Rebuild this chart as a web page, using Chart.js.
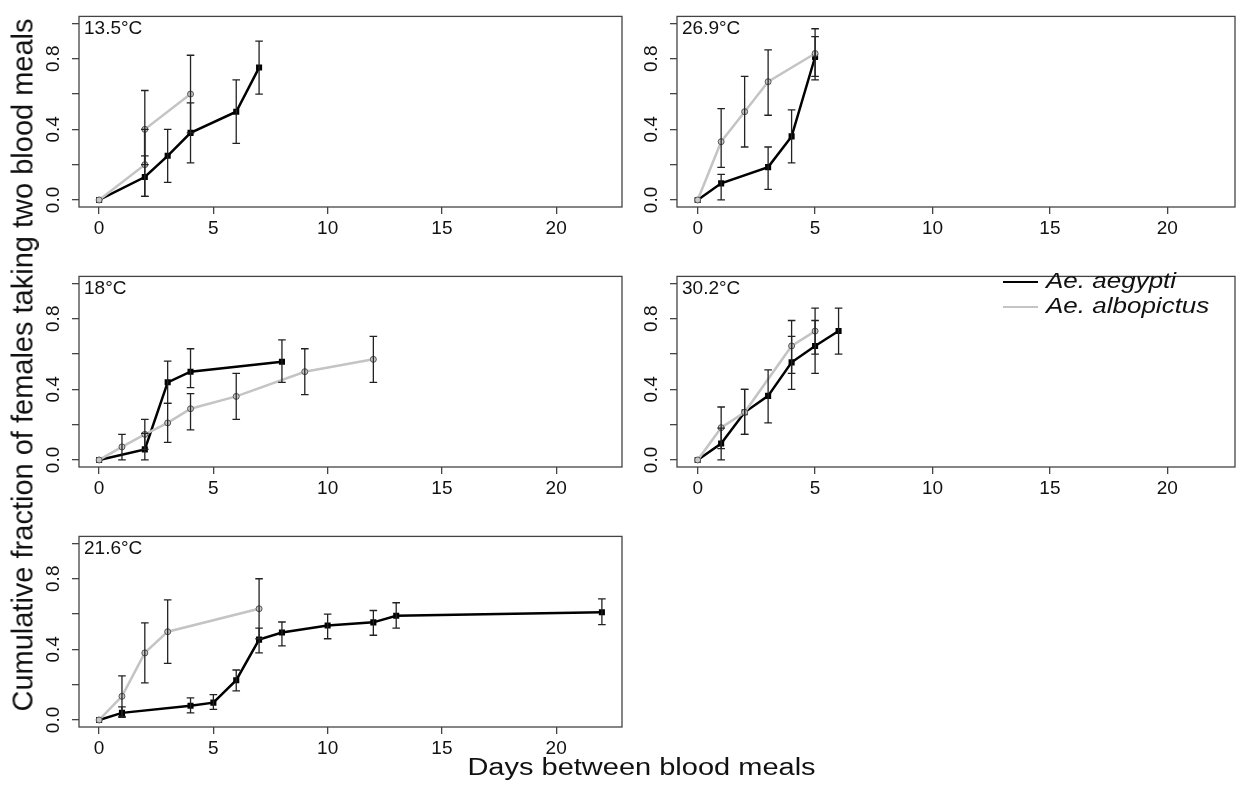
<!DOCTYPE html>
<html>
<head>
<meta charset="utf-8">
<script src="https://cdn.jsdelivr.net/npm/chart.js@4.4.1/dist/chart.umd.min.js"></script>
<style>
  html, body { margin: 0; padding: 0; background: #fff; }
  body { width: 1244px; height: 788px; position: relative; overflow: hidden;
         font-family: "Liberation Sans", Arial, sans-serif; color: #111; }
  canvas { position: absolute; }
  .lbl { position: absolute; font-size: 19px; line-height: 19px; white-space: nowrap; }
  .ytitle { position: absolute; left: 23px; top: 365px; width: 800px; text-align: center;
            font-size: 29px; line-height: 29px; white-space: nowrap;
            transform: translate(-50%, -50%) rotate(-90deg); }
  .xtitle { position: absolute; left: 241.5px; top: 755px; width: 800px; text-align: center;
            font-size: 29px; line-height: 29px; white-space: nowrap;
            transform: scaleY(0.853); transform-origin: center top; }
  .leg { position: absolute; left: 1046px; font-size: 26px; line-height: 26px; font-style: italic;
         white-space: nowrap; transform: scaleY(0.86); transform-origin: left top; }
  .legline { position: absolute; left: 1003px; width: 35px; height: 2.5px; }
</style>
</head>
<body>

<canvas id="p135"></canvas>
<canvas id="p269"></canvas>
<canvas id="p18"></canvas>
<canvas id="p302"></canvas>
<canvas id="p216"></canvas>

<div class="ytitle">Cumulative fraction of females taking two blood meals</div>
<div class="xtitle">Days between blood meals</div>

<div class="legline" style="top:280.5px;background:#000;"></div>
<div class="legline" style="top:305.5px;background:#c4c4c4;"></div>
<div class="leg" style="top:269.4px;">Ae. aegypti</div>
<div class="leg" style="top:294.4px;">Ae. albopictus</div>

<script>
// rows: day, cumulative fraction, lower CI, upper CI
const aeg135 = [[0, 0, null, null], [2, 0.13, 0.02, 0.25], [3, 0.25, 0.10, 0.40], [4, 0.38, 0.21, 0.55], [6, 0.50, 0.32, 0.68], [7, 0.75, 0.60, 0.90]];
const alb135 = [[0, 0, null, null], [2, 0.20, 0.02, 0.40], [2, 0.40, 0.20, 0.62], [4, 0.60, 0.38, 0.82]];

const aeg269 = [[0, 0, null, null], [1, 0.094, 0.0, 0.145], [3, 0.186, 0.06, 0.30], [4, 0.36, 0.21, 0.51], [5, 0.81, 0.70, 0.925]];
const alb269 = [[0, 0, null, null], [1, 0.33, 0.184, 0.517], [2, 0.50, 0.30, 0.70], [3, 0.67, 0.48, 0.85], [5, 0.83, 0.68, 0.97]];

const aeg18 = [[0, 0, null, null], [2, 0.06, 0.0, 0.15], [3, 0.44, 0.32, 0.56], [4, 0.50, 0.41, 0.63], [8, 0.556, 0.44, 0.68]];
const alb18 = [[0, 0, null, null], [1, 0.074, 0.0, 0.145], [2, 0.145, 0.06, 0.23], [3, 0.21, 0.10, 0.32], [4, 0.29, 0.17, 0.376], [6, 0.36, 0.23, 0.49], [9, 0.50, 0.37, 0.63], [12, 0.57, 0.44, 0.70]];

const aeg302 = [[0, 0, null, null], [1, 0.093, 0.0, 0.18], [2, 0.27, 0.145, 0.40], [3, 0.363, 0.21, 0.51], [4, 0.553, 0.40, 0.70], [5, 0.646, 0.49, 0.79], [6, 0.731, 0.60, 0.86]];
const alb302 = [[0, 0, null, null], [1, 0.183, 0.064, 0.30], [2, 0.27, 0.145, 0.40], [4, 0.646, 0.49, 0.79], [5, 0.73, 0.60, 0.86]];

const aeg216 = [[0, 0, null, null], [1, 0.04, 0.015, 0.074], [4, 0.08, 0.04, 0.125], [5, 0.098, 0.06, 0.143], [6, 0.225, 0.165, 0.283], [7, 0.455, 0.38, 0.52], [8, 0.495, 0.42, 0.555], [10, 0.535, 0.46, 0.60], [12, 0.553, 0.48, 0.62], [13, 0.59, 0.52, 0.664], [22, 0.61, 0.54, 0.686]];
const alb216 = [[0, 0, null, null], [1, 0.134, 0.02, 0.25], [2, 0.38, 0.21, 0.55], [3, 0.50, 0.32, 0.68], [7, 0.63, 0.46, 0.80]];

const xTicks = [0, 5, 10, 15, 20];
const yTicks = [0, 0.2, 0.4, 0.6, 0.8, 1.0];
const yTickLabels = ['0.0', '', '0.4', '', '0.8', ''];

const FONT = "'Liberation Sans', Arial, sans-serif";

// box round the plot area, like R's box()
const boxPlugin = {
  id: 'box',
  afterDraw(chart) {
    const { ctx, chartArea: a } = chart;
    ctx.save();
    ctx.strokeStyle = '#444';
    ctx.lineWidth = 1.3;
    ctx.strokeRect(a.left, a.top, a.right - a.left, a.bottom - a.top);
    ctx.restore();
  }
};

// vertical error bars with small caps
const errorBars = {
  id: 'errorBars',
  afterDatasetsDraw(chart) {
    const { ctx, scales: { x, y } } = chart;
    ctx.save();
    ctx.strokeStyle = '#222';
    ctx.lineWidth = 1.3;
    chart.data.datasets.forEach(ds => {
      ds.rows.forEach(r => {
        if (r[2] == null) return;
        const px = x.getPixelForValue(r[0]);
        const lo = y.getPixelForValue(r[2]);
        const hi = y.getPixelForValue(r[3]);
        ctx.beginPath();
        ctx.moveTo(px, lo); ctx.lineTo(px, hi);
        ctx.moveTo(px - 3.8, lo); ctx.lineTo(px + 3.8, lo);
        ctx.moveTo(px - 3.8, hi); ctx.lineTo(px + 3.8, hi);
        ctx.stroke();
      });
    });
    ctx.restore();
  }
};

function makePanel(id, label, aeg, alb, boxL, boxT, boxW, boxH) {
  const canvas = document.getElementById(id);
  const padL = 50, padT = 8, padR = 4, padB = 40;
  canvas.width = boxW + padL + padR;
  canvas.height = boxH + padT + padB;
  canvas.style.left = (boxL - padL) + 'px';
  canvas.style.top = (boxT - padT) + 'px';

  const div = document.createElement('div');
  div.className = 'lbl';
  div.textContent = label;
  div.style.left = (boxL + 5) + 'px';
  div.style.top = (boxT + 10) + 'px';
  document.body.appendChild(div);

  const tickGrid = { drawOnChartArea: false, drawTicks: true, tickLength: 7, color: '#444', lineWidth: 1.3 };

  return new Chart(canvas, {
    type: 'line',
    data: {
      datasets: [
        {
          label: 'Ae. albopictus',
          rows: alb,
          data: alb.map(r => ({ x: r[0], y: r[1] })),
          borderColor: '#c4c4c4',
          borderWidth: 2.5,
          pointStyle: 'circle',
          pointRadius: 3,
          pointBackgroundColor: '#c8c8c8',
          pointBorderColor: '#555',
          pointBorderWidth: 1,
          tension: 0
        },
        {
          label: 'Ae. aegypti',
          rows: aeg,
          data: aeg.map(r => ({ x: r[0], y: r[1] })),
          borderColor: '#000',
          borderWidth: 2.5,
          pointStyle: 'rect',
          pointRadius: 4.3,
          pointBackgroundColor: '#000',
          pointBorderColor: '#000',
          pointBorderWidth: 0,
          tension: 0
        }
      ]
    },
    options: {
      responsive: false,
      animation: false,
      events: [],
      layout: { padding: { top: padT, right: padR, left: 0, bottom: 0 } },
      plugins: { legend: { display: false }, tooltip: { enabled: false } },
      scales: {
        x: {
          type: 'linear',
          min: -0.88,
          max: 22.88,
          afterBuildTicks: s => { s.ticks = xTicks.map(v => ({ value: v })); },
          afterFit: s => { s.height = padB; },
          grid: tickGrid,
          border: { display: false },
          ticks: { font: { family: FONT, size: 19 }, color: '#111', padding: 3, maxRotation: 0, autoSkip: false }
        },
        y: {
          type: 'linear',
          min: -0.04,
          max: 1.04,
          afterBuildTicks: s => { s.ticks = yTicks.map(v => ({ value: v })); },
          afterFit: s => { s.width = padL; },
          grid: tickGrid,
          border: { display: false },
          ticks: {
            font: { family: FONT, size: 19 }, color: '#111', padding: 5,
            minRotation: 90, maxRotation: 90, crossAlign: 'center', autoSkip: false,
            callback: (v, i) => yTickLabels[i]
          }
        }
      }
    },
    plugins: [errorBars, boxPlugin]
  });
}

makePanel('p135', '13.5°C', aeg135, alb135, 79, 8, 544, 199);
makePanel('p269', '26.9°C', aeg269, alb269, 677, 8, 559, 199);
makePanel('p18', '18°C', aeg18, alb18, 79, 268, 544, 199);
makePanel('p302', '30.2°C', aeg302, alb302, 677, 268, 559, 199);
makePanel('p216', '21.6°C', aeg216, alb216, 79, 528, 544, 199);
</script>
</body>
</html>
